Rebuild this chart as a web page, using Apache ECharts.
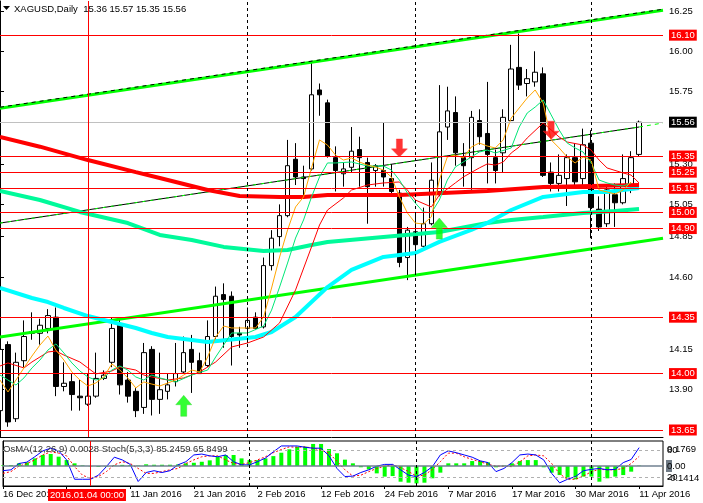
<!DOCTYPE html>
<html><head><meta charset="utf-8">
<script src="https://cdn.jsdelivr.net/npm/echarts@6/dist/echarts.min.js"></script>
<style>html,body{margin:0;padding:0;background:#fff}#c{width:703px;height:503px}</style>
</head><body><div id="c"></div>
<script>
// ---------- DATA ----------
const symbolName = 'XAGUSD,Daily';
const dates = [
'2015.12.16','2015.12.17','2015.12.18','2015.12.21','2015.12.22','2015.12.23','2015.12.24','2015.12.28','2015.12.29','2015.12.30','2015.12.31',
'2016.01.04','2016.01.05','2016.01.06','2016.01.07','2016.01.08','2016.01.11','2016.01.12','2016.01.13','2016.01.14','2016.01.15',
'2016.01.18','2016.01.19','2016.01.20','2016.01.21','2016.01.22','2016.01.25','2016.01.26','2016.01.27','2016.01.28','2016.01.29',
'2016.02.01','2016.02.02','2016.02.03','2016.02.04','2016.02.05','2016.02.08','2016.02.09','2016.02.10','2016.02.11','2016.02.12',
'2016.02.15','2016.02.16','2016.02.17','2016.02.18','2016.02.19','2016.02.22','2016.02.23','2016.02.24','2016.02.25','2016.02.26',
'2016.02.29','2016.03.01','2016.03.02','2016.03.03','2016.03.04','2016.03.07','2016.03.08','2016.03.09','2016.03.10','2016.03.11',
'2016.03.14','2016.03.15','2016.03.16','2016.03.17','2016.03.18','2016.03.21','2016.03.22','2016.03.23','2016.03.24','2016.03.28',
'2016.03.29','2016.03.30','2016.03.31','2016.04.01','2016.04.04','2016.04.05','2016.04.06','2016.04.07','2016.04.08','2016.04.11'];
const futureDates = ['2016.04.12','2016.04.13','2016.04.14'];

const opens = [13.77,14.18,13.72,14.08,14.25,14.25,14.28,14.35,13.92,13.95,
13.86,13.81,13.86,13.97,14.07,14.30,13.96,13.89,13.79,14.15,
13.84,13.89,13.95,14.01,14.15,14.08,14.05,14.23,14.49,14.48,
14.25,14.28,14.35,14.29,14.67,14.85,14.98,15.33,15.22,15.27,
15.76,15.68,15.34,15.24,15.28,15.39,15.31,15.26,15.26,15.21,
15.12,14.72,14.88,14.79,14.93,15.13,15.53,15.62,15.34,15.34,
15.57,15.49,15.34,15.37,15.57,15.90,15.80,15.81,15.86,15.25,
15.18,15.21,15.34,15.21,15.43,15.02,14.93,15.11,15.06,15.16,
15.36];
const closes = [14.15,13.70,14.07,14.23,14.26,14.30,14.36,13.92,13.94,13.87,
13.85,13.86,13.97,13.99,14.28,13.93,13.86,13.77,14.13,13.84,
13.90,13.93,14.00,14.13,14.07,14.00,14.23,14.48,14.46,14.23,
14.24,14.33,14.28,14.67,14.84,14.98,15.29,15.22,15.21,15.73,
15.73,15.35,15.26,15.27,15.38,15.34,15.16,15.29,15.22,15.13,
14.69,14.89,14.80,14.93,15.20,15.50,15.63,15.37,15.29,15.59,
15.47,15.36,15.26,15.59,15.89,15.79,15.83,15.87,15.23,15.18,
15.23,15.34,15.19,15.42,15.03,14.91,15.14,15.06,15.21,15.34,
15.56];
const lows = [13.75,13.67,13.70,14.04,14.21,14.18,14.25,13.86,13.89,13.77,
13.77,13.80,13.85,13.96,14.04,13.87,13.82,13.73,13.75,13.74,
13.75,13.84,13.92,14.00,13.88,14.00,14.04,14.21,14.16,14.05,
14.16,14.19,14.27,14.28,14.64,14.79,14.97,15.17,15.10,15.26,
15.60,15.34,15.13,15.16,15.25,15.16,14.93,15.16,15.16,15.12,
14.66,14.58,14.62,14.78,14.92,15.10,15.45,15.29,15.16,15.14,
15.42,15.18,15.18,15.25,15.57,15.76,15.72,15.78,15.22,15.13,
15.13,15.04,15.16,15.17,14.84,14.885,14.91,14.91,15.05,15.12,
15.35];
const highs = [14.17,14.20,14.13,14.33,14.38,14.34,14.40,14.41,14.07,14.00,
13.96,14.00,14.13,14.02,14.35,14.35,14.01,13.91,14.19,14.17,
14.13,14.00,14.19,14.23,14.24,14.13,14.33,14.54,14.56,14.51,
14.29,14.41,14.38,14.72,14.89,15.05,15.45,15.43,15.29,15.94,
15.80,15.70,15.41,15.31,15.53,15.47,15.34,15.30,15.56,15.30,
15.14,14.91,15.00,15.03,15.31,15.79,15.78,15.72,15.43,15.63,
15.64,15.81,15.39,15.64,16.04,16.11,15.89,16.00,15.90,15.31,
15.36,15.36,15.43,15.52,15.51,15.10,15.16,15.18,15.36,15.38,
15.57];

// moving averages: [bar index, price]
const maRedThick = [[0,15.468],[5,15.408],[11,15.325],[17,15.25],[20,15.214],[26,15.139],[30,15.102],[35,15.096],[38,15.096],[41,15.108],[50,15.108],[61,15.133],[68,15.158],[80,15.17]];
const maCyanThick = [[0,14.531],[4,14.469],[6,14.444],[8,14.407],[11,14.357],[14,14.32],[17,14.283],[19,14.252],[21,14.227],[26,14.196],[32,14.227],[34,14.258],[37,14.351],[41,14.537],[44,14.643],[48,14.724],[52,14.748],[55,14.817],[59,14.891],[61,14.935],[64,15.015],[68,15.096],[73,15.127],[76,15.127],[80,15.152]];
const maTealThick = [[0,15.133],[5,15.077],[10,15.003],[16,14.934],[20,14.86],[24,14.829],[28,14.786],[33,14.761],[36,14.767],[39,14.798],[41,14.817],[48,14.848],[55,14.879],[61,14.934],[64,14.953],[68,14.972],[73,14.997],[77,15.009],[80,15.021]];
const maOrange = [[0,13.96],[1,13.886],[2,13.96],[3,14.035],[4,14.109],[5,14.177],[6,14.233],[7,14.146],[8,14.084],[9,14.01],[10,13.96],[11,13.923],[12,13.942],[13,13.979],[14,14.06],[15,14.022],[16,13.973],[17,13.911],[18,13.948],[19,13.935],[20,13.923],[22,13.96],[23,13.991],[24,14.022],[25,14.01],[26,14.103],[27,14.227],[28,14.295],[29,14.283],[30,14.283],[31,14.283],[32,14.283],[33,14.351],[34,14.531],[35,14.723],[36,14.891],[37,15.034],[38,15.096],[39,15.276],[40,15.45],[41,15.418],[42,15.356],[43,15.325],[44,15.338],[45,15.313],[46,15.294],[47,15.282],[48,15.263],[49,15.22],[50,15.096],[51,14.997],[52,14.934],[53,14.928],[54,14.972],[55,15.201],[56,15.344],[57,15.356],[58,15.338],[59,15.406],[60,15.431],[61,15.412],[62,15.40],[63,15.45],[64,15.586],[65,15.648],[66,15.71],[67,15.76],[68,15.679],[69,15.45],[70,15.40],[71,15.344],[72,15.307],[73,15.344],[74,15.325],[75,15.139],[76,15.127],[77,15.114],[78,15.139],[79,15.189]];
const maGreenThin = [[0,13.991],[1,13.96],[2,13.929],[3,13.973],[4,14.035],[5,14.084],[6,14.146],[7,14.184],[8,14.128],[9,14.066],[10,14.016],[11,13.979],[12,13.96],[13,13.973],[14,14.022],[15,14.047],[16,14.022],[17,13.979],[18,13.96],[19,13.991],[20,13.973],[22,13.948],[24,13.991],[26,14.022],[27,14.103],[29,14.252],[31,14.252],[33,14.295],[34,14.394],[35,14.537],[36,14.686],[37,14.841],[38,14.953],[39,15.096],[40,15.22],[41,15.307],[42,15.307],[44,15.313],[46,15.288],[48,15.288],[49,15.263],[50,15.201],[51,15.121],[52,15.058],[53,15.003],[54,14.997],[55,15.077],[56,15.201],[57,15.282],[58,15.313],[59,15.344],[60,15.375],[61,15.387],[62,15.369],[64,15.40],[65,15.53],[66,15.617],[67,15.654],[68,15.698],[69,15.605],[70,15.512],[71,15.431],[72,15.40],[73,15.375],[74,15.307],[75,15.201],[76,15.183],[77,15.17],[78,15.164],[79,15.183]];
const maRedThin = [[0,14.047],[1,14.066],[3,14.035],[4,14.072],[5,14.103],[6,14.134],[7,14.14],[8,14.115],[10,14.072],[11,14.035],[12,13.998],[14,14.016],[15,14.041],[17,14.022],[18,13.991],[19,13.979],[21,13.96],[23,13.973],[25,14.01],[27,14.072],[29,14.165],[31,14.19],[33,14.227],[35,14.314],[37,14.519],[39,14.786],[40,14.922],[41,15.015],[43,15.09],[44,15.139],[46,15.17],[48,15.183],[50,15.189],[51,15.139],[52,15.077],[54,15.034],[55,15.108],[57,15.183],[58,15.22],[60,15.276],[61,15.301],[62,15.294],[63,15.313],[64,15.369],[65,15.406],[66,15.462],[68,15.555],[69,15.512],[70,15.468],[71,15.437],[73,15.418],[74,15.387],[75,15.325],[76,15.276],[78,15.245],[79,15.232],[80,15.183]];

// drawn trend lines: [bar index, price]
const upperChannel = [[0,15.647],[83,16.255]];
const lowerChannel = [[0,14.227],[83,14.84]];
const blackTrend = [[0,14.934],[80,15.53]];
const trendExtension = [[80,15.53],[83,15.555]];

// horizontal levels and price scale
const levels = [16.10, 15.35, 15.25, 15.15, 15.00, 14.90, 14.35, 14.00, 13.65];
const bidPrice = 15.56;
const priceTicks = [16.25, 16.00, 15.75, 15.30, 15.05, 14.85, 14.60, 14.15, 13.90];
const priceMin = 13.6065, priceMax = 16.312;

// signal arrows
const upArrowBars = [23, 55], upArrowPrices = [13.80, 14.90];
const downArrowBars = [50, 69], downArrowPrices = [15.40, 15.51];

// time axis
const dateLabelBars = [0, 16, 24, 32, 40, 48, 56, 64, 72, 80];
const dateTickBars = [0, 8, 16, 24, 32, 40, 48, 56, 64, 72, 80];
const separatorBars = [31, 52, 74];
const crosshairBar = 11;

// indicator window
const osma = [0.004,0.006,0.019,0.026,0.054,0.078,0.085,0.066,0.042,0.019,
0.004,-0.003,-0.006,-0.004,0.004,0.008,0.006,0.003,0.012,0.009,
0.009,0.009,0.011,0.019,0.023,0.03,0.04,0.066,0.078,0.078,
0.054,0.042,0.042,0.054,0.07,0.094,0.118,0.137,0.137,0.156,
0.156,0.12,0.09,0.045,0.019,-0.009,-0.024,-0.052,-0.075,-0.071,
-0.111,-0.118,-0.123,-0.118,-0.087,-0.047,0.019,0.019,0.019,0.035,
0.035,0.026,-0.009,0.003,0.019,0.035,0.042,0.042,-0.009,-0.047,
-0.064,-0.087,-0.094,-0.075,-0.075,-0.111,-0.087,-0.075,-0.064,-0.04,
0.0028];
const stochMain = [34,36,50,53,65,78,84,78,58,15,
15,15,24,43,64,58,48,10,30,34,
30,34,47,54,69,71,67,65,69,54,
47,47,54,62,76,89,89,89,86,84,
84,67,39,21,22,30,36,44,48,48,
36,24,21,30,43,69,78,74,69,64,
56,52,32,39,52,69,71,69,58,28,
7,15,21,34,37,39,36,37,52,59,
85.2459];
const stochSignal = [28,32,44,50,58,69,76,73,67,43,
24,17,21,32,47,54,50,39,28,28,
32,36,39,50,58,65,67,67,58,50,
48,52,58,65,74,81,87,86,87,84,
80,73,55,36,22,24,32,39,44,47,
41,32,22,24,37,54,73,73,65,59,
54,48,44,44,43,54,67,69,67,50,
27,15,15,22,32,37,36,36,39,50,
65.8499];
const stochLevels = [20, 80];
const osmaMax = 0.1769, osmaMin = -0.1414;

// ---------- CHART ----------
const FONT = '"Liberation Sans", Arial, sans-serif';
const FS = 9.5;
const MONTHS = ['Jan','Feb','Mar','Apr','May','Jun','Jul','Aug','Sep','Oct','Nov','Dec'];
const cats = dates.concat(futureDates);
const lastIdx = cats.length - 1;
const candles = opens.map((o, i) => [o, closes[i], lows[i], highs[i]]);
const showDate = (idx) => dateLabelBars.indexOf(idx) >= 0;
const showTick = (idx) => dateTickBars.indexOf(idx) >= 0;
const fmtDate = (s) => { const p = s.split('.'); return (+p[2]) + ' ' + MONTHS[+p[1] - 1] + ' ' + p[0]; };
const last = opens.length - 1;
const f2 = v => v.toFixed(2);

function lineSeries(data, color, width, extra) {
  return Object.assign({
    type: 'line', xAxisIndex: 1, yAxisIndex: 0, data: data, showSymbol: false, symbol: 'none',
    lineStyle: { color: color, width: width }, z: 3, silent: true, animation: false
  }, extra || {});
}

const upPath = 'path://M8,0 L16,9 L11,9 L11,20 L5,20 L5,9 L0,9 Z';
const downPath = 'path://M5,0 L11,0 L11,11 L16,11 L8,20 L0,11 L5,11 Z';

const option = {
  animation: false,
  backgroundColor: '#ffffff',
  textStyle: { fontFamily: FONT },
  grid: [
    { left: -1, right: 40, top: 1, height: 436 },
    { left: -1, right: 40, top: 441, height: 45, show: true, borderColor: '#000', borderWidth: 1, backgroundColor: 'transparent' }
  ],
  xAxis: [
    { type: 'category', gridIndex: 0, data: cats, boundaryGap: false,
      axisLine: { show: true, lineStyle: { color: '#000', width: 1 } }, axisTick: { show: false }, axisLabel: { show: false }, splitLine: { show: false } },
    { type: 'value', gridIndex: 0, min: 0, max: lastIdx, show: false },
    { type: 'category', gridIndex: 1, data: cats, boundaryGap: false,
      axisLine: { show: true, lineStyle: { color: '#000', width: 1 } },
      axisTick: { show: true, interval: (i) => showTick(i), length: 3, lineStyle: { color: '#000' } },
      axisLabel: { interval: (i) => showDate(i), formatter: fmtDate, align: 'left', margin: 3, fontSize: FS, color: '#000', fontFamily: FONT },
      splitLine: { show: false } },
    { type: 'value', gridIndex: 1, min: 0, max: lastIdx, show: false }
  ],
  yAxis: [
    { type: 'value', gridIndex: 0, position: 'right', min: priceMin, max: priceMax, splitLine: { show: false },
      axisLine: { show: true, lineStyle: { color: '#000', width: 1 } },
      axisTick: { show: true, customValues: priceTicks, length: 4, lineStyle: { color: '#000' } },
      axisLabel: { customValues: priceTicks, formatter: f2, margin: 6, fontSize: FS, color: '#000', fontFamily: FONT } },
    { type: 'value', gridIndex: 1, position: 'right', min: 0, max: 100, splitLine: { show: false },
      axisLine: { show: true, lineStyle: { color: '#000', width: 1 } }, axisTick: { show: false },
      axisLabel: { customValues: stochLevels, margin: 4, fontSize: FS, color: '#000', fontFamily: FONT } },
    { type: 'value', gridIndex: 1, position: 'right', min: osmaMin, max: osmaMax, show: false }
  ],
  series: [
    { type: 'candlestick', xAxisIndex: 0, yAxisIndex: 0, data: candles, barWidth: 5, z: 2, silent: true,
      itemStyle: { color: '#ffffff', color0: '#000000', borderColor: '#000000', borderColor0: '#000000', borderColorDoji: '#000000', borderWidth: 1 } },
    // trend lines
    lineSeries(upperChannel, '#00ff00', 3),
    lineSeries(upperChannel.map(p => [p[0], p[1] + 0.006]), '#000000', 1, { lineStyle: { color: '#000', width: 1, type: [4, 4] } }),
    lineSeries(lowerChannel, '#00ff00', 3),
    lineSeries(blackTrend, '#000000', 1),
    lineSeries(blackTrend, '#00ff00', 1, { lineStyle: { color: '#00ff00', width: 1, type: [3, 5] } }),
    lineSeries(trendExtension, '#00ff00', 1, { lineStyle: { color: '#00ff00', width: 1, type: [4, 4] } }),
    // moving averages
    lineSeries(maTealThick, '#00fa9a', 4),
    lineSeries(maCyanThick, '#00ffff', 4),
    lineSeries(maRedThick, '#ff0000', 4),
    lineSeries(maRedThin, '#ff0000', 1),
    lineSeries(maGreenThin, '#00e676', 1),
    lineSeries(maOrange, '#ffa500', 1),
    // level lines
    { type: 'line', xAxisIndex: 1, yAxisIndex: 0, data: [], z: 4, silent: true,
      markLine: { silent: true, symbol: ['none', 'none'], animation: false,
        lineStyle: { color: '#ff0000', width: 1, type: 'solid' },
        label: { show: true, position: 'end', distance: 6, formatter: (p) => f2(p.value), color: '#ffffff', backgroundColor: '#ff0000', padding: [1, 2, 0, 2], fontSize: FS, fontFamily: FONT },
        data: levels.map(v => ({ yAxis: v })) } },
    { type: 'line', xAxisIndex: 1, yAxisIndex: 0, data: [], z: 1, silent: true,
      markLine: { silent: true, symbol: ['none', 'none'], animation: false,
        lineStyle: { color: '#c0c0c0', width: 1, type: 'solid' },
        label: { show: true, position: 'end', distance: 6, formatter: (p) => f2(p.value), color: '#ffffff', backgroundColor: '#000000', padding: [1, 2, 0, 2], fontSize: FS, fontFamily: FONT },
        data: [{ yAxis: bidPrice }] } },
    // period separators + crosshair (main)
    { type: 'line', xAxisIndex: 1, yAxisIndex: 0, data: [], z: 1, silent: true,
      markLine: { silent: true, symbol: ['none', 'none'], animation: false, label: { show: false },
        lineStyle: { color: '#000', width: 1, type: [3, 3] },
        data: separatorBars.map(b => ({ xAxis: b })) } },
    { type: 'line', xAxisIndex: 1, yAxisIndex: 0, data: [], z: 4, silent: true,
      markLine: { silent: true, symbol: ['none', 'none'], animation: false, label: { show: false },
        lineStyle: { color: '#ff0000', width: 1, type: 'solid' },
        data: [{ xAxis: crosshairBar }] } },
    // arrows
    { type: 'scatter', xAxisIndex: 1, yAxisIndex: 0, z: 5, silent: true, symbol: upPath, symbolSize: [16, 21],
      itemStyle: { color: '#00ff00', borderColor: '#33cc33', borderWidth: 0.5 },
      data: upArrowBars.map((b, i) => [b, upArrowPrices[i]]) },
    { type: 'scatter', xAxisIndex: 1, yAxisIndex: 0, z: 5, silent: true, symbol: downPath, symbolSize: [16, 18],
      itemStyle: { color: '#ff0000', borderColor: '#ff3333', borderWidth: 0.5 },
      data: downArrowBars.map((b, i) => [b, downArrowPrices[i]]) },
    // indicator window
    { type: 'bar', xAxisIndex: 2, yAxisIndex: 2, data: osma, barWidth: 4, itemStyle: { color: '#00ff00' }, silent: true, z: 2,
      markLine: { silent: true, symbol: ['none', 'none'], animation: false, label: { show: false },
        lineStyle: { color: '#708090', width: 1.5, type: 'solid' }, data: [{ yAxis: 0 }] } },
    { type: 'line', xAxisIndex: 2, yAxisIndex: 1, data: stochSignal, showSymbol: false, symbol: 'none', silent: true, z: 3,
      lineStyle: { color: '#ff0000', width: 1, type: [2, 2] },
      markLine: { silent: true, symbol: ['none', 'none'], animation: false, label: { show: false },
        lineStyle: { color: '#b0b0b0', width: 1, type: [3, 3] }, data: stochLevels.map(v => ({ yAxis: v })) } },
    { type: 'line', xAxisIndex: 2, yAxisIndex: 1, data: stochMain, showSymbol: false, symbol: 'none', silent: true, z: 4,
      lineStyle: { color: '#0000ff', width: 1 } },
    { type: 'line', xAxisIndex: 3, yAxisIndex: 1, data: [], z: 1, silent: true,
      markLine: { silent: true, symbol: ['none', 'none'], animation: false, label: { show: false },
        lineStyle: { color: '#000', width: 1, type: [3, 3] },
        data: separatorBars.map(b => ({ xAxis: b })) } },
    { type: 'line', xAxisIndex: 3, yAxisIndex: 1, data: [], z: 4, silent: true,
      markLine: { silent: true, symbol: ['none', 'none'], animation: false, label: { show: false },
        lineStyle: { color: '#ff0000', width: 1, type: 'solid' },
        data: [{ xAxis: crosshairBar }] } }
  ],
  graphic: [
    { type: 'polygon', shape: { points: [[3, 6], [10, 6], [6.5, 10]] }, style: { fill: '#000' }, z: 100 },
    { type: 'text', x: 14, y: 9, z: 100, style: { text: symbolName + '  ' + [opens[last], highs[last], lows[last], closes[last]].map(f2).join(' '),
      fill: '#000', font: FS + 'px ' + FONT, verticalAlign: 'middle', align: 'left' } },
    { type: 'text', x: 3, y: 449, z: 100, style: {
      text: 'OsMA(12,26,9) ' + osma[last].toFixed(4) + ' Stoch(5,3,3) ' + stochMain[last].toFixed(4) + ' ' + stochSignal[last].toFixed(4),
      fill: '#333', font: FS + 'px ' + FONT, verticalAlign: 'middle', align: 'left' } },
    { type: 'text', x: 667, y: 449, z: 100, style: { text: osmaMax.toFixed(4), fill: '#000', font: FS + 'px ' + FONT, verticalAlign: 'middle', align: 'left' } },
    { type: 'rect', shape: { x: 666, y: 460, width: 6, height: 12 }, style: { fill: '#707b86' }, z: 99 },
    { type: 'text', x: 667, y: 466, z: 100, style: { text: f2(0), fill: '#000', font: FS + 'px ' + FONT, verticalAlign: 'middle', align: 'left' } },
    { type: 'text', x: 667, y: 478, z: 100, style: { text: osmaMin.toFixed(4), fill: '#000', font: FS + 'px ' + FONT, verticalAlign: 'middle', align: 'left' } },
    { type: 'text', x: 87, y: 495, z: 100, style: { text: dates[crosshairBar] + ' 00:00', fill: '#fff', backgroundColor: '#ff0000', padding: [1, 2, 1, 2],
      font: FS + 'px ' + FONT, verticalAlign: 'middle', align: 'center' } }
  ]
};

const chart = echarts.init(document.getElementById('c'), null, { renderer: 'canvas' });
chart.setOption(option);
</script>
</body></html>
